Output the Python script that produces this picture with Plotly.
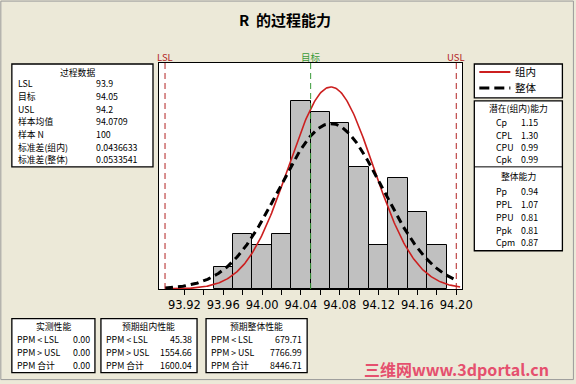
import numpy as np
import plotly.graph_objects as go

# ---- data ----
bin_left = [93.95, 93.97, 93.99, 94.01, 94.03, 94.05, 94.07, 94.09, 94.11, 94.13, 94.15, 94.17]
counts = [2, 5, 4, 5, 17, 16, 15, 11, 4, 10, 7, 4]
bin_width = 0.02
LSL, target, USL = 93.9, 94.05, 94.2
mean = 94.0709
n_samples = 100
sd_within = 0.0436633
sd_overall = 0.0533541
tick_vals = [93.92, 93.94, 93.96, 93.98, 94.00, 94.02, 94.04, 94.06, 94.08, 94.10, 94.12, 94.14, 94.16, 94.18, 94.20]
tick_text = ["93.92", "", "93.96", "", "94.00", "", "94.04", "", "94.08", "", "94.12", "", "94.16", "", "94.20"]

process_labels = ["LSL", "目标", "USL", "样本均值", "样本 N", "标准差(组内)", "标准差(整体)"]
process_values = ["93.9", "94.05", "94.2", "94.0709", "100", "0.0436633", "0.0533541"]
pot_labels = ["Cp", "CPL", "CPU", "Cpk"]
pot_values = ["1.15", "1.30", "0.99", "0.99"]
ovr_labels = ["Pp", "PPL", "PPU", "Ppk", "Cpm"]
ovr_values = ["0.94", "1.07", "0.81", "0.81", "0.87"]
ppm_labels = ["PPM < LSL", "PPM > USL", "PPM 合计"]
ppm_observed = ["0.00", "0.00", "0.00"]
ppm_within = ["45.38", "1554.66", "1600.04"]
ppm_overall = ["679.71", "7766.99", "8446.71"]

# ---- layout geometry (pixels) ----
W, H = 576, 384
L, R, T, B = 159, 461.7, 63, 289.3
def px(x): return (x - L) / (R - L)
def py(y): return (B - y) / (B - T)

FONT = "Noto Sans CJK SC"
BG = "#ECE9D8"

fig = go.Figure()
centers = [b + bin_width / 2 for b in bin_left]
fig.add_trace(go.Bar(x=centers, y=counts, width=bin_width,
                     marker=dict(color="#C0C0C0", line=dict(color="black", width=1)),
                     hoverinfo="skip"))

xs = np.linspace(LSL, USL + 0.004, 300)
def fit(sd):
    return n_samples * bin_width * np.exp(-0.5 * ((xs - mean) / sd) ** 2) / (sd * np.sqrt(2 * np.pi))
fig.add_trace(go.Scatter(x=xs, y=fit(sd_within), mode="lines",
                         line=dict(color="#CC1F1F", width=1.6), hoverinfo="skip"))
fig.add_trace(go.Scatter(x=xs[:-4], y=fit(sd_overall)[:-4], mode="lines",
                         line=dict(color="black", width=3, dash="8px,5px"), hoverinfo="skip"))

shapes = []
annots = []
for xv, col in [(LSL, "#B22222"), (USL, "#B22222"), (target, "#3A9A3A")]:
    shapes.append(dict(type="line", xref="x", yref="paper", x0=xv, x1=xv, y0=0, y1=1,
                       line=dict(color=col, width=1, dash="6px,4px")))
for xv, txt, col in [(LSL, "LSL", "#B22222"), (target, "目标", "#3A9A3A"), (USL, "USL", "#B22222")]:
    annots.append(dict(x=xv, xref="x", y=py(57), yref="paper", text=txt, showarrow=False, borderpad=0,
                       font=dict(family=FONT, size=9.5, color=col), xanchor="center", yanchor="middle"))

def box(x0, y0, x1, y1):
    shapes.append(dict(type="rect", xref="paper", yref="paper", x0=px(x0), x1=px(x1),
                       y0=py(y0), y1=py(y1), fillcolor="white", line=dict(color="black", width=1.3)))

def text(x, y, s, anchor="left", size=8.8, bold=False, color="black"):
    if bold:
        s = "<b>" + s + "</b>"
    annots.append(dict(x=px(x), y=py(y), xref="paper", yref="paper", text=s, showarrow=False,
                       borderpad=0, xanchor=anchor, yanchor="middle",
                       font=dict(family=FONT, size=size, color=color)))

# outer frame
shapes.append(dict(type="rect", xref="paper", yref="paper", x0=px(1), x1=px(573), y0=py(1), y1=py(380),
                   line=dict(color="#9A9A9A", width=1)))

# process data box
box(12, 64, 153, 167)
text(78, 73, "过程数据", anchor="center")
rows_y = [84, 97, 110, 122, 135, 148, 160]
for lab, val, yy in zip(process_labels, process_values, rows_y):
    text(17, yy, lab)
    text(95, yy, val)

# legend box
box(474, 64, 562, 98)
shapes.append(dict(type="line", xref="paper", yref="paper", x0=px(479), x1=px(510), y0=py(72), y1=py(72),
                   line=dict(color="#CC1F1F", width=2)))
shapes.append(dict(type="line", xref="paper", yref="paper", x0=px(479), x1=px(510), y0=py(88), y1=py(88),
                   line=dict(color="black", width=3, dash="10px,5px")))
text(514, 72, "组内", size=10.5)
text(514, 88, "整体", size=10.5)

# capability box
box(474, 101, 562, 251)
shapes.append(dict(type="line", xref="paper", yref="paper", x0=px(474), x1=px(562), y0=py(167), y1=py(167),
                   line=dict(color="black", width=1)))
text(518, 109, "潜在(组内)能力", anchor="center")
for lab, val, yy in zip(pot_labels, pot_values, [123, 135.5, 148, 160]):
    text(495, yy, lab)
    text(520, yy, val)
text(518, 177, "整体能力", anchor="center")
for lab, val, yy in zip(ovr_labels, ovr_values, [192, 204.5, 217.5, 230.5, 243]):
    text(495, yy, lab)
    text(520, yy, val)

# bottom PPM boxes
for (x0, x1, title, vals) in [(12, 95, "实测性能", ppm_observed),
                              (101, 197, "预期组内性能", ppm_within),
                              (206, 307, "预期整体性能", ppm_overall)]:
    box(x0, 319, x1, 373)
    text((x0 + x1) / 2, 327, title, anchor="center")
    for lab, val, yy in zip(ppm_labels, vals, [340, 353, 365.5]):
        text(x0 + 4, yy, lab)
        text(x1 - 4, yy, val, anchor="right")

# watermark
text(456, 369, "三维网www.3dportal.cn", anchor="center", size=16, bold=True, color="#E5506E")

# title
annots.append(dict(x=px(285), y=py(19), xref="paper", yref="paper", text="<b>R  的过程能力</b>",
                   showarrow=False, xanchor="center", yanchor="middle", borderpad=0,
                   font=dict(family=FONT, size=15, color="black")))

fig.update_layout(
    width=W, height=H, margin=dict(l=L, r=W - R, t=T, b=H - B),
    paper_bgcolor=BG, plot_bgcolor="white", showlegend=False, bargap=0,
    shapes=shapes, annotations=annots,
    xaxis=dict(range=[93.8938, 94.2059], tickvals=tick_vals, ticktext=tick_text,
               ticks="outside", ticklen=5, tickcolor="black", showgrid=False, zeroline=False,
               showline=True, linecolor="black", linewidth=1, mirror=True,
               tickfont=dict(family="DejaVu Sans", size=11.5, color="black")),
    yaxis=dict(range=[0, 20.44], showticklabels=False, ticks="", showgrid=False, zeroline=False,
               showline=True, linecolor="black", linewidth=1, mirror=True),
)
fig.write_html("out.html", config={"displayModeBar": False},
               post_script="document.body.style.margin='0px';document.body.style.overflow='hidden';")
